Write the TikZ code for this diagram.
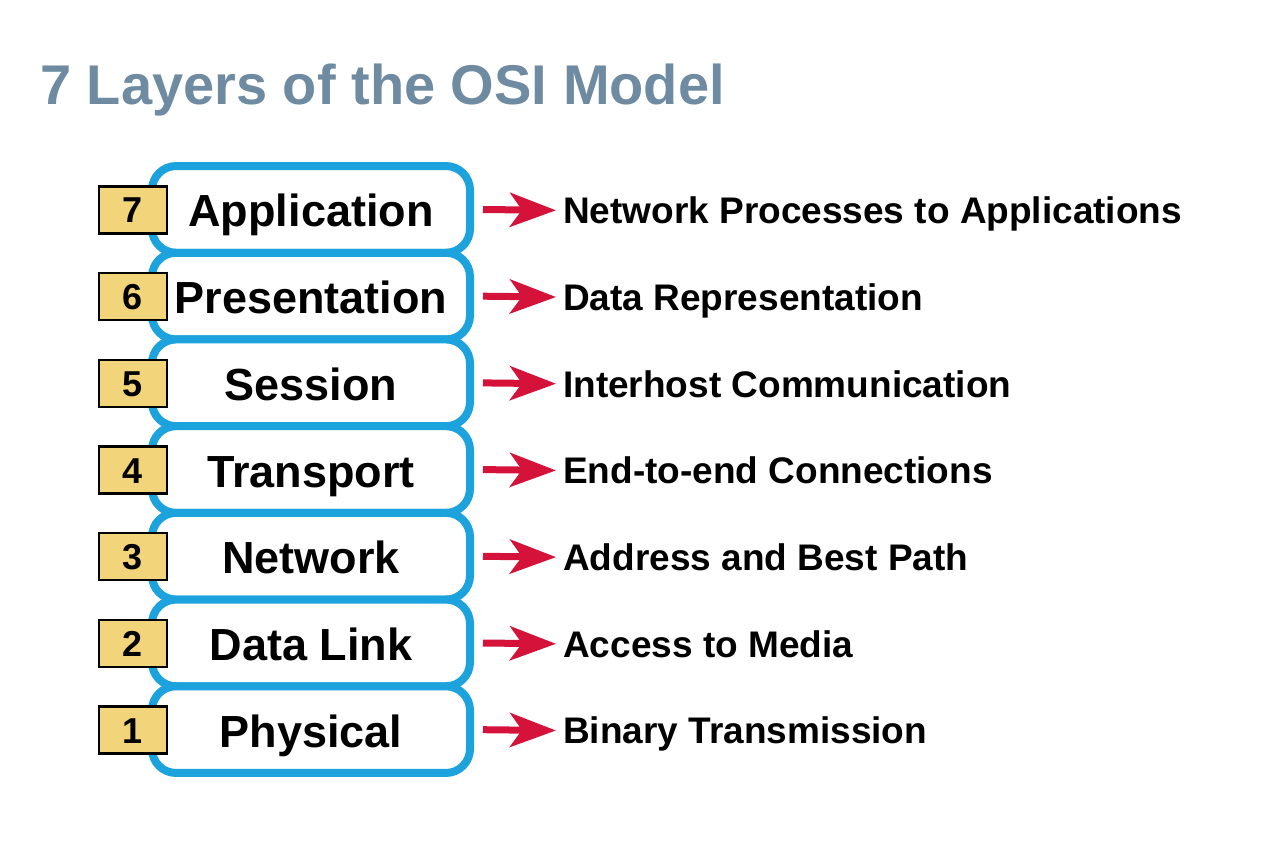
\documentclass[tikz,border=0pt]{standalone}
\usepackage{fontspec}
\setmainfont{Liberation Sans}
\usetikzlibrary{arrows.meta}
\definecolor{osiblue}{RGB}{28,163,222}
\definecolor{numyellow}{RGB}{242,212,122}
\definecolor{arrowred}{RGB}{213,18,58}
\definecolor{titlegray}{RGB}{110,139,161}
\tikzset{
  layerbox/.style={draw=osiblue, fill=white, line width=8pt, rounded corners=24pt,
    minimum width=318pt, minimum height=86.7pt, inner sep=0pt},
  layername/.style={font=\fontsize{45}{54}\selectfont\bfseries, text height=32pt, text depth=0pt, inner sep=0pt},
  numbox/.style={draw=black, fill=numyellow, line width=2.5pt, minimum width=68pt, minimum height=47pt,
    inner sep=0pt, font=\fontsize{36}{42}\selectfont\bfseries, text height=26pt, text depth=0pt},
  desc/.style={anchor=west, inner sep=0pt, font=\fontsize{37}{44}\selectfont\bfseries, text height=26.5pt, text depth=0pt},
  redarrow/.style={draw=arrowred, line width=7pt, -{Stealth[length=46pt, width=34pt, inset=12pt]},
    shorten <=9pt, shorten >=7pt},
}
\begin{document}
\begin{tikzpicture}[x=1pt, y=-1pt]
\useasboundingbox (0,0) rectangle (1267,851);
\node[anchor=base west, inner sep=0pt, text=titlegray, font=\fontsize{56}{66}\selectfont\bfseries] (title) at (40,104) {7 Layers of the OSI Model};
\foreach \k/\n/\name/\d in {0/7/Application/Network Processes to Applications,
                           1/6/Presentation/Data Representation,
                           2/5/Session/Interhost Communication,
                           3/4/Transport/End-to-end Connections,
                           4/3/Network/Address and Best Path,
                           5/2/Data Link/Access to Media,
                           6/1/Physical/Binary Transmission}{
  \pgfmathsetmacro{\yc}{209.4+86.7*\k}
  \node[layerbox] (box\n) at (311,\yc) {};
  \node[layername] (name\n) at (311,\yc+1.5) {\name};
  \node[numbox] (num\n) at (133,\yc+0.5) {\n};
  \node[desc] (desc\n) at (563,\yc+1) {\d};
  \draw[redarrow] (box\n.east) -- (desc\n.west);
}
\end{tikzpicture}
\end{document}
